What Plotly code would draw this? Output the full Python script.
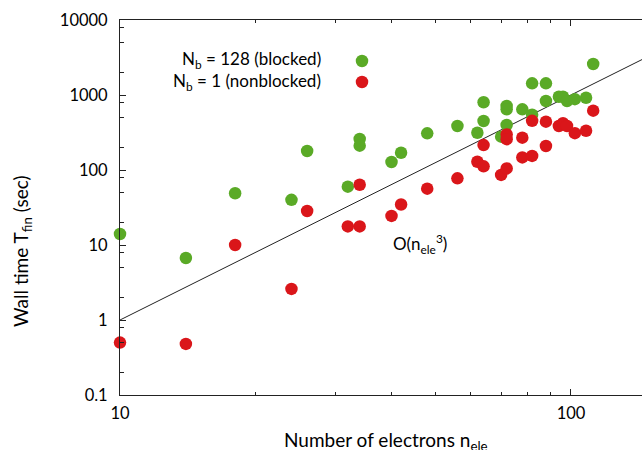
import plotly.graph_objects as go
import numpy as np

# Data
n_blocked = [10, 14, 18, 24, 26, 32, 34, 34, 40, 42, 48, 56, 62, 64, 64, 70, 72, 72, 72,
             78, 82, 82, 88, 88, 94, 96, 98, 102, 108, 112]
t_blocked = [14, 6.7, 49, 40, 179, 60, 259, 211, 128, 170, 308, 386, 314, 800, 450, 278, 713, 644, 398,
             644, 1430, 545, 1430, 832, 949, 949, 832, 880, 920, 2590]

n_nonblocked = [10, 14, 18, 24, 26, 32, 34, 34, 40, 42, 48, 56, 62, 64, 64, 70, 72, 72, 72,
                78, 78, 82, 82, 88, 88, 94, 96, 98, 102, 108, 112]
t_nonblocked = [0.50, 0.48, 10, 2.6, 28.4, 17.7, 17.7, 63.6, 24.4, 34.7, 56.4, 77.4, 129, 112, 215, 86, 105, 298, 258,
                270, 147, 154, 452, 441, 209, 386, 420, 386, 310, 334, 618]

x_tick_vals = [10, 100]
x_tick_text = ["10", "100"]
y_tick_vals = [0.1, 1, 10, 100, 1000, 10000]
y_tick_text = ["0.1", "1", "10", "100", "1000", "10000"]

GREEN = "rgb(90,170,38)"
RED = "rgb(218,22,26)"
FONT = "Lato"

# O(n^3) guide line: t = (n/10)^3
n_fit = np.array([10.0, 150.0])
t_fit = (n_fit / 10.0) ** 3

fig = go.Figure()
fig.add_trace(go.Scatter(x=n_fit, y=t_fit, mode="lines",
                         line=dict(color="#222222", width=1), showlegend=False, hoverinfo="skip"))
fig.add_trace(go.Scatter(x=n_blocked, y=t_blocked, mode="markers",
                         marker=dict(color=GREEN, size=12.5, line=dict(width=0)),
                         name="N<sub>b</sub> = 128 (blocked)", showlegend=False, cliponaxis=False))
fig.add_trace(go.Scatter(x=n_nonblocked, y=t_nonblocked, mode="markers",
                         marker=dict(color=RED, size=12.5, line=dict(width=0)),
                         name="N<sub>b</sub> = 1 (nonblocked)", showlegend=False, cliponaxis=False))

L, T, B = 120, 20, 395
W, H = 642, 450
pw = W - L
ph = B - T

def px(xp):
    return (xp - L) / pw

def py(yp):
    return (B - yp) / ph

minor_x = [20, 30, 40, 50, 60, 70, 80, 90]
minor_y = []
for d in [0.1, 1, 10, 100, 1000]:
    minor_y += [2 * d, 5 * d, 8 * d]

fig.update_xaxes(type="log", range=[1, np.log10(143.7)], tickmode="array",
                 tickvals=x_tick_vals, ticktext=x_tick_text,
                 ticks="inside", ticklen=6, tickwidth=1, tickcolor="#222",
                 showline=True, linecolor="#222", linewidth=1, mirror="allticks",
                 showgrid=False, zeroline=False,
                 tickfont=dict(family=FONT, size=16.5, color="black"),
                 ticklabelstandoff=3,
                 minor=dict(tickmode="array", tickvals=minor_x, ticks="inside", ticklen=3,
                            tickcolor="#222", showgrid=False))
fig.update_yaxes(type="log", range=[-1, 4], tickmode="array",
                 tickvals=y_tick_vals, ticktext=y_tick_text,
                 ticks="inside", ticklen=6, tickwidth=1, tickcolor="#222",
                 showline=True, linecolor="#222", linewidth=1, mirror=False,
                 showgrid=False, zeroline=False,
                 tickfont=dict(family=FONT, size=16.5, color="black"),
                 ticklabelstandoff=8,
                 minor=dict(tickmode="array", tickvals=minor_y, ticks="inside", ticklen=4,
                            tickcolor="#222", showgrid=False))

annotations = [
    dict(text="N<sub>b</sub> = 128 (blocked)", x=px(323), y=py(60), xanchor="right", yanchor="middle", size=17),
    dict(text="N<sub>b</sub> = 1 (nonblocked)", x=px(323), y=py(82), xanchor="right", yanchor="middle", size=17),
    dict(text="O(n<sub>ele</sub><sup>3</sup>)", x=px(391), y=py(244), xanchor="left", yanchor="middle", size=17),
    dict(text="Number of electrons n<sub>ele</sub>", x=px(386), y=py(441), xanchor="center", yanchor="middle", size=19),
    dict(text="Wall time T<sub>fin</sub> (sec)", x=px(22), y=py(252), xanchor="center", yanchor="middle",
         textangle=-90, size=19),
]
for a in annotations:
    s = a.pop("size")
    a.update(xref="paper", yref="paper", showarrow=False,
             font=dict(family=FONT, size=s, color="black"))

shapes = []
for yp, col in [(61, GREEN), (82, RED)]:
    r = 6.25
    shapes.append(dict(type="circle", xref="paper", yref="paper",
                       x0=px(362 - r), x1=px(362 + r), y0=py(yp + r), y1=py(yp - r),
                       fillcolor=col, line=dict(width=0)))

fig.update_layout(width=W, height=H, margin=dict(l=L, r=0, t=T, b=H - B),
                  plot_bgcolor="white", paper_bgcolor="white",
                  annotations=annotations, shapes=shapes,
                  font=dict(family=FONT, size=16, color="black"))

fig.write_html("out.html")
